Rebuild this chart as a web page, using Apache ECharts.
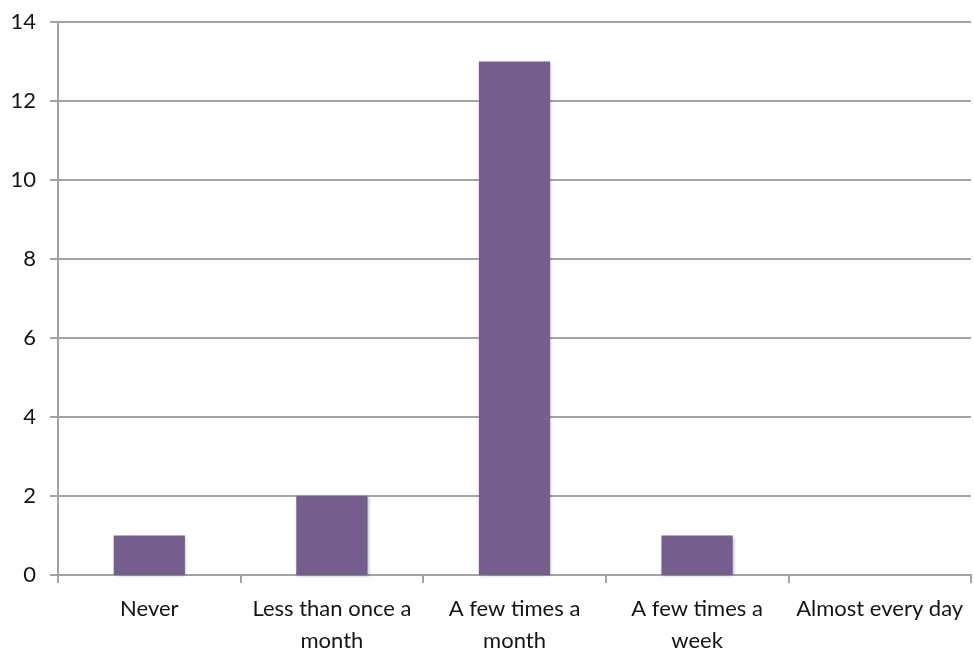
<!DOCTYPE html>
<html>
<head>
<meta charset="utf-8">
<script src="https://cdn.jsdelivr.net/npm/echarts@6/dist/echarts.min.js"></script>
<style>
  html, body { margin: 0; padding: 0; background: #fff; }
  #chart { width: 974px; height: 651px; }
</style>
</head>
<body>
<div id="chart"></div>
<script>
// survey answers, how often
const categories = ['Never', 'Less than once a\nmonth', 'A few times a\nmonth', 'A few times a\nweek', 'Almost every day'];
const counts = [1, 2, 13, 1, 0];
const yTicks = { min: 0, max: 14, step: 2 };

const GRID_GREY = '#A3A3A3';
const BAR = '#735E8C';
const FONT = 'Lato';
const INK = '#141414';

const c = echarts.init(document.getElementById('chart'), null, { renderer: 'canvas' });
c.setOption({
  animation: false,
  textStyle: { fontFamily: FONT },
  grid: { left: 58, right: 3, top: 22, bottom: 76, containLabel: false, outerBoundsMode: 'none' },
  xAxis: {
    type: 'category',
    data: categories,
    axisLine: { lineStyle: { color: GRID_GREY, width: 2 } },
    axisTick: { show: true, length: 8, lineStyle: { color: GRID_GREY, width: 2 } },
    axisLabel: { color: INK, fontSize: 22, fontFamily: FONT, margin: 18, lineHeight: 32, interval: 0 },
  },
  yAxis: {
    type: 'value',
    min: yTicks.min, max: yTicks.max, interval: yTicks.step,
    axisLine: { show: true, lineStyle: { color: GRID_GREY, width: 2 } },
    axisTick: { show: true, length: 8, lineStyle: { color: GRID_GREY, width: 2 } },
    splitLine: { lineStyle: { color: GRID_GREY, width: 2 } },
    axisLabel: { color: INK, fontSize: 22, fontFamily: FONT, margin: 22 },
  },
  series: [{
    type: 'bar',
    data: counts,
    barWidth: '39%',
    itemStyle: { color: BAR, shadowColor: 'rgba(0,0,0,0.25)', shadowBlur: 3, shadowOffsetX: 1, shadowOffsetY: 1 },
  }],
});
</script>
</body>
</html>
